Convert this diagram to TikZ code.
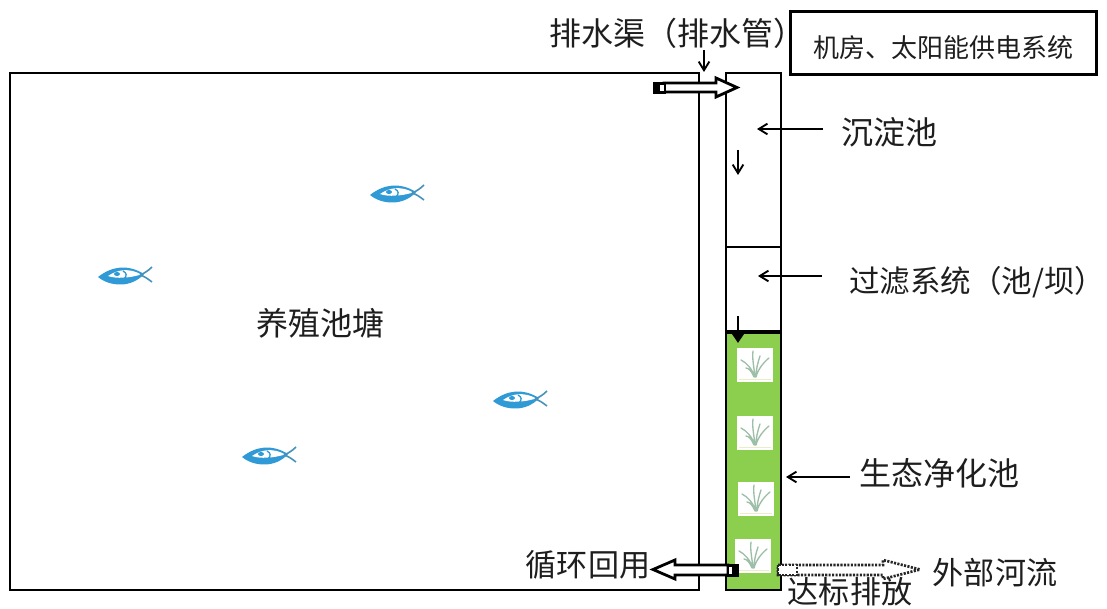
\documentclass[tikz,border=0pt]{standalone}
\usepackage{fontspec}
\setmainfont{Noto Sans CJK SC}
\usetikzlibrary{arrows.meta}
\definecolor{ink}{HTML}{1E1E1E}
\definecolor{plantgreen}{HTML}{8CCF4E}
\definecolor{fishblue}{HTML}{2F9AD6}
\definecolor{bladegreen}{HTML}{9DBFA8}
\tikzset{
  px/.style={x=0.75pt,y=-0.75pt},
  wall/.style={draw=black,line width=2.2pt},
  thin arrow/.style={draw=black,line width=1.4pt,-{Straight Barb[length=6.5pt,width=8pt,line width=1.4pt]}},
  label big/.style={text=ink,font=\fontsize{23.3pt}{26pt}\selectfont,inner sep=0pt,anchor=center},
  label wide/.style={text=ink,font=\fontsize{24pt}{27pt}\selectfont,inner sep=0pt,anchor=center},
  label small/.style={text=ink,font=\fontsize{19.5pt}{22pt}\selectfont,inner sep=0pt,anchor=center},
  block arrow/.style={draw=black,fill=white,line width=2.1pt,line join=miter},
  dotted arrow/.style={draw=black!85,fill=white,line width=2pt,dash pattern=on 1.6pt off 1pt},
  fish/.pic={
    \fill[fishblue] (-28,1) .. controls (-14,-10) and (2,-12) .. (18,-2)
       .. controls (6,12) and (-16,11) .. cycle;
    \fill[white] (-18,0) .. controls (-8,-7) and (4,-8) .. (15,-1.5)
       .. controls (4,2) and (-10,3) .. cycle;
    \fill[fishblue] (-9,-2) ellipse (3 and 2);
    \draw[fishblue,line width=1pt] (-3,-5) .. controls (1,-3) and (1,0) .. (-2,3);
    \draw[fishblue!70!gray,line width=1.2pt] (14,-1) .. controls (17,-2) and (22,-5) .. (26,-9);
    \draw[fishblue!70!gray,line width=1.2pt] (14,-1) .. controls (18,0) and (22,3) .. (26,6);
  },
  grass/.pic={
    \fill[white] (-18,-17) rectangle (18,17);
    \draw[bladegreen,line width=1pt,line cap=round]
      (0,12) .. controls (-1,2) and (-3,-6) .. (-2,-14)
      (0,12) .. controls (-3,4) and (-8,-2) .. (-14,-5)
      (1,12) .. controls (3,4) and (9,-3) .. (14,-7)
      (1,12) .. controls (1,4) and (3,-3) .. (5,-9)
      (-1,12) .. controls (-3,7) and (-6,3) .. (-9,3);
    \draw[yellow!40!bladegreen!40,line width=0.6pt] (-16,14) -- (16,14);
  },
}
\begin{document}
\begin{tikzpicture}[px]
\useasboundingbox (0,0) rectangle (1107,609);
\fill[white] (0,0) rectangle (1107,609);

% pond outline
\draw[wall] (699,73) -- (10,73) -- (10,590) -- (699,590) -- cycle;

% treatment column
\fill[plantgreen] (726,332) rectangle (781,590);
\draw[wall] (726,73) rectangle (781,590);
\draw[wall] (726,247) -- (781,247);
\draw[black,line width=3pt] (726,332) -- (781,332);

% plants
\path (755,365) pic {grass};
\path (755,433) pic {grass};
\path (756,499) pic {grass};
\path (753,556) pic {grass};

% fish
\path (398,194) pic {fish};
\path (126,276) pic {fish};
\path (521,400) pic {fish};
\path (270,456) pic {fish};

% labels
\node[label wide] (paishui) at (677,33) {排水渠（排水管）};
\node[draw=black,line width=2.2pt,minimum width=229pt,minimum height=47pt,inner sep=0pt] (jifang) at (943.5,43) {};
\node[label small] (jifangtext) at (943,48) {机房、太阳能供电系统};
\node[label wide] (chendian) at (889,132) {沉淀池};
\node[label wide,anchor=west] (guolv) at (849,282) {\fontsize{22.9pt}{27pt}\selectfont 过滤系统（池/坝）};
\node[label wide] (yangzhi) at (320,323) {养殖池塘};
\node[label wide] (shengtai) at (939,473) {生态净化池};
\node[label big] (xunhuan) at (588,565) {循环回用};
\node[label big] (waibu) at (995,573) {外部河流};
\node[label big] (dabiao) at (850,592) {达标排放};

% thin arrows
\coordinate (a1s) at (704,50);  \coordinate (a1e) at (704,72);
\coordinate (a2s) at (823,129); \coordinate (a2e) at (757,129);
\coordinate (a3s) at (738,150); \coordinate (a3e) at (738,175);
\coordinate (a4s) at (822,276); \coordinate (a4e) at (758,276);
\coordinate (a5s) at (738,316); \coordinate (a5e) at (738,343);
\coordinate (a6s) at (850,477); \coordinate (a6e) at (786,477);
\draw[thin arrow] (a1s) -- (a1e);
\draw[thin arrow] (a2s) -- (a2e);
\draw[thin arrow] (a3s) -- (a3e);
\draw[thin arrow] (a4s) -- (a4e);
\draw[black,line width=1.4pt,-{Triangle[length=7pt,width=9pt]}] (a5s) -- (a5e);
\draw[thin arrow] (a6s) -- (a6e);

% inlet block arrow
\draw[block arrow] (664,83) -- (716,83) -- (716,78) -- (737,87.5) -- (716,97) -- (716,92) -- (664,92) -- cycle;
\fill[black] (653,82) rectangle (666,94);
\fill[white] (660,85) rectangle (664,91);

% recycle block arrow
\draw[block arrow] (728,565) -- (675,565) -- (675,560) -- (653,569.5) -- (675,579) -- (675,575) -- (728,575) -- cycle;
\fill[black] (727,564) rectangle (739,577);
\fill[white] (729,567) rectangle (732,574);

% discharge dotted arrow
\draw[dotted arrow] (778,565) -- (883,565) -- (883,560) -- (920,569.5) -- (883,579) -- (883,575) -- (778,575) -- cycle;
\draw[dotted arrow] (778,565) rectangle (797,575);
\end{tikzpicture}
\end{document}
